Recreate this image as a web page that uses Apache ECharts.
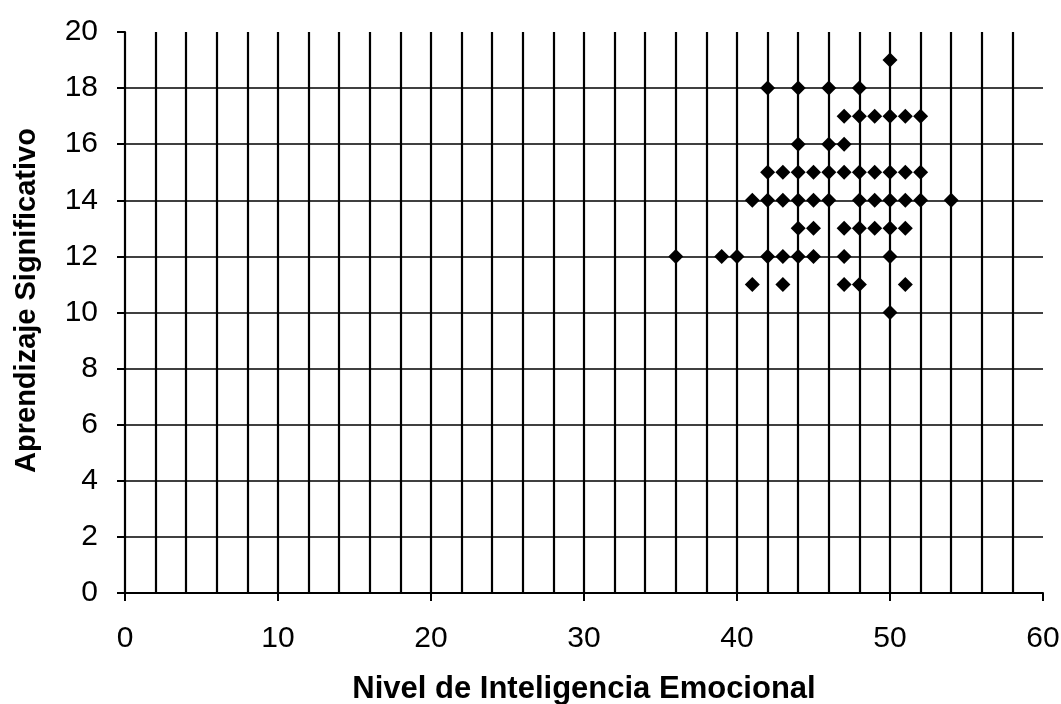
<!DOCTYPE html>
<html>
<head>
<meta charset="utf-8">
<script src="https://cdn.jsdelivr.net/npm/echarts@6/dist/echarts.min.js"></script>
<style>
html,body{margin:0;padding:0;background:#fff;}
#chart{width:1061px;height:704px;}
</style>
</head>
<body>
<div id="chart"></div>
<script>
// Nivel de Inteligencia Emocional (x) and Aprendizaje Significativo (y)
const inteligencia = [
  50,
  42, 44, 46, 48,
  47, 48, 49, 50, 51, 52,
  44, 46, 47,
  42, 43, 44, 45, 46, 47, 48, 49, 50, 51, 52,
  41, 42, 43, 44, 45, 46, 48, 49, 50, 51, 52, 54,
  44, 45, 47, 48, 49, 50, 51,
  36, 39, 40, 42, 43, 44, 45, 47, 50,
  41, 43, 47, 48, 51,
  50
];
const aprendizaje = [
  19,
  18, 18, 18, 18,
  17, 17, 17, 17, 17, 17,
  16, 16, 16,
  15, 15, 15, 15, 15, 15, 15, 15, 15, 15, 15,
  14, 14, 14, 14, 14, 14, 14, 14, 14, 14, 14, 14,
  13, 13, 13, 13, 13, 13, 13,
  12, 12, 12, 12, 12, 12, 12, 12, 12,
  11, 11, 11, 11, 11,
  10
];
const xTitle = 'Nivel de Inteligencia Emocional';
const yTitle = 'Aprendizaje Significativo';

const points = inteligencia.map((x, i) => [x, aprendizaje[i]]);

const chart = echarts.init(document.getElementById('chart'));
const font = '"Liberation Sans", Arial, sans-serif';
chart.setOption({
  backgroundColor: '#fff',
  animation: false,
  grid: { left: 125, right: 18, top: 32, bottom: 111, outerBoundsMode: 'none', containLabel: false },
  xAxis: {
    type: 'value', min: 0, max: 60, interval: 10,
    name: xTitle, nameLocation: 'middle', nameGap: 81,
    nameTextStyle: { fontFamily: font, fontWeight: 'bold', fontSize: 31, color: '#000' },
    axisLine: { show: true, lineStyle: { color: '#000', width: 2 } },
    axisTick: { show: true, length: 8, lineStyle: { color: '#000', width: 2 } },
    axisLabel: { margin: 31, fontFamily: font, fontSize: 30, color: '#000' },
    splitLine: { show: true, showMaxLine: false, lineStyle: { color: '#000', width: 2.2 } },
    minorTick: { show: false, splitNumber: 5 },
    minorSplitLine: { show: true, lineStyle: { color: '#000', width: 2.2 } }
  },
  yAxis: {
    type: 'value', min: 0, max: 20, interval: 2,
    name: yTitle, nameLocation: 'middle', nameGap: 84, nameRotate: 90,
    nameTextStyle: { fontFamily: font, fontWeight: 'bold', fontSize: 29, color: '#000', padding: [0, 0, 0, 24] },
    axisLine: { show: true, lineStyle: { color: '#000', width: 2 } },
    axisTick: { show: true, length: 8, lineStyle: { color: '#000', width: 2 } },
    axisLabel: { margin: 27, fontFamily: font, fontSize: 30, color: '#000' },
    splitLine: { show: true, showMaxLine: false, lineStyle: { color: '#000', width: 1.6 } }
  },
  series: [{
    type: 'scatter',
    data: points,
    symbol: 'diamond',
    symbolSize: 15,
    itemStyle: { color: '#000', opacity: 1 }
  }]
});
</script>
</body>
</html>
